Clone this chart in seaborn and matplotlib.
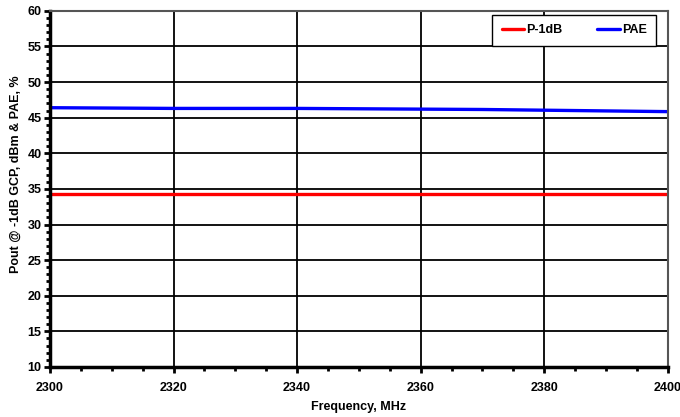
import numpy as np
import pandas as pd
import matplotlib
matplotlib.use("Agg")
import matplotlib.pyplot as plt
from matplotlib.ticker import MultipleLocator
import seaborn as sns

# Measured performance across the band
freq_mhz = [2300, 2310, 2320, 2330, 2340, 2350, 2360, 2370, 2380, 2390, 2400]
p1db_dbm = [34.3, 34.3, 34.3, 34.3, 34.3, 34.3, 34.3, 34.3, 34.3, 34.3, 34.3]
pae_pct = [46.4, 46.35, 46.3, 46.3, 46.3, 46.25, 46.2, 46.15, 46.05, 45.95, 45.85]

series_names = ["P-1dB", "PAE"]
series_colors = {"P-1dB": "#ff0000", "PAE": "#0000ff"}

df = pd.concat([
    pd.DataFrame({"Frequency": freq_mhz, "Value": p1db_dbm, "Series": "P-1dB"}),
    pd.DataFrame({"Frequency": freq_mhz, "Value": pae_pct, "Series": "PAE"}),
])

sns.set_style("white")
plt.rcParams["font.family"] = ["Liberation Sans", "DejaVu Sans"]
plt.rcParams["font.weight"] = "bold"
plt.rcParams["text.color"] = "black"
plt.rcParams["axes.labelcolor"] = "black"
plt.rcParams["xtick.color"] = "black"
plt.rcParams["ytick.color"] = "black"

fig = plt.figure(figsize=(6.8, 4.17), dpi=100)
ax = fig.add_axes([0.0735, 0.12, 0.9085, 0.854])

sns.lineplot(data=df, x="Frequency", y="Value", hue="Series",
             hue_order=series_names, palette=series_colors,
             linewidth=2.4, ax=ax, legend=True)

ax.set_xlim(2300, 2400)
ax.set_ylim(10, 60)
ax.xaxis.set_major_locator(MultipleLocator(20))
ax.xaxis.set_minor_locator(MultipleLocator(5))
ax.yaxis.set_major_locator(MultipleLocator(5))
ax.yaxis.set_minor_locator(MultipleLocator(1))

ax.grid(True, which="major", color="black", linewidth=1.3)
ax.set_axisbelow(True)

for side in ["left", "bottom"]:
    ax.spines[side].set_color("black")
    ax.spines[side].set_linewidth(2.5)
for side in ["top", "right"]:
    ax.spines[side].set_color("#555555")
    ax.spines[side].set_linewidth(1.5)

ax.tick_params(axis="both", which="both", bottom=True, left=True,
               top=False, right=False)
ax.tick_params(axis="both", which="major", direction="out", length=4,
               width=2, color="black", labelsize=9, labelcolor="black")
ax.tick_params(axis="both", which="minor", direction="out", length=3,
               width=2, color="black")
ax.tick_params(axis="x", which="major", pad=7)
ax.tick_params(axis="y", which="major", pad=2)
for lbl in ax.get_xticklabels() + ax.get_yticklabels():
    lbl.set_fontweight("bold")

ax.set_xlabel("Frequency, MHz", fontsize=9, fontweight="bold", labelpad=5)
ax.set_ylabel("Pout @ -1dB GCP, dBm & PAE, %", fontsize=9,
              fontweight="bold")
ax.yaxis.set_label_coords(-0.045, 0.542)

leg = ax.legend(loc="upper right", ncol=2, frameon=True, fancybox=False,
                fontsize=9, handlelength=1.8, handletextpad=0.15,
                columnspacing=2.8, borderpad=0.75, borderaxespad=0,
                bbox_to_anchor=(0.981, 0.989))
leg.get_frame().set_edgecolor("black")
leg.get_frame().set_linewidth(1.0)
leg.get_frame().set_alpha(1.0)
for t in leg.get_texts():
    t.set_fontweight("bold")
    t.set_color("black")
for h in leg.get_lines():
    h.set_linewidth(2.4)

fig.savefig("out.png", dpi=100)
